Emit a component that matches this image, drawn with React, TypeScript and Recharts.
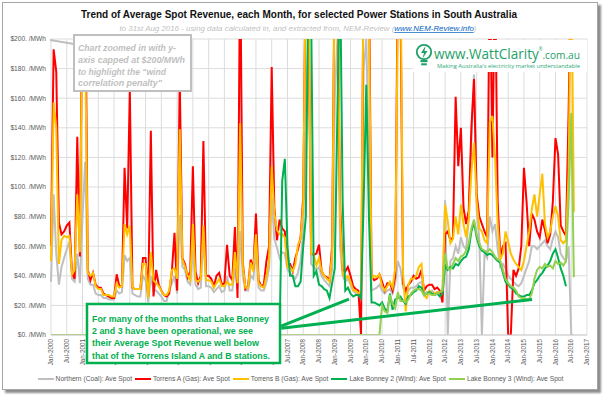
// Monthly average spot revenue for SA power stations (Recharts line chart)
import { LineChart, Line, XAxis, YAxis, CartesianGrid, Legend, ReferenceLine } from 'recharts';

const FONT = '"Liberation Sans", Arial, sans-serif';

// $/MWh per month, Jan-2000 .. Aug-2016 (values above 200 run off the capped axis)
const northern = [
  36, 95, 55, 34, 46, 52, 58, 63, 38, 36, 55, 35,
  80, 117, 38, 34, 34, 28, 27, 27, 25, 25, 24, 24,
  24, 30, 28, 29, 54, 50, 52, 28, 27, 26, 26, 40,
  37, 22, 40, 30, 30, 28, 26, 23, 23, 30, 35, 40,
  28, 81, 46, 44, 36, 34, 58, 34, 31, 32, 66, 33,
  33, 32, 29, 31, 33, 29, 30, 40, 30, 30, 45, 31,
  70, 40, 30, 30, 40, 38, 57, 32, 30, 30, 36, 45,
  93, 65, 59, 52, 56, 55, 44, 42, 40, 38, 42, 50,
  70, 150, 200, 48, 46, 44, 46, 40, 37, 35, 33, 45,
  160, 200, 60, 40, 36, 38, 34, 30, 28, 27, 28, 180,
  200, 120, 30, 31, 32, 34, 30, 28, 30, 31, 28, 35,
  50, 45, 32, 28, 30, 32, 32, 33, 35, 36, 28, 29,
  29, 30, 28, 29, 28, 27, 91, 0, 50, 52, 60, 55,
  66, 60, 58, 79, 130, 176, 85, 65, 0, 55, 52, 80,
  70, 75, 58, 46, 48, 45, 40, 38, 36, 34, 33, 35,
  40, 45, 50, 60, 60, 58, 60, 62, 64, 60, 58, 65,
  70, 66, 55, 52, 50, 60, 0, 0,
];

const torrensA = [
  60, 193, 178, 76, 68, 70, 74, 76, 42, 38, 134, 53,
  260, 250, 44, 37, 42, 34, 32, 32, 28, 27, 26, 25,
  25, 41, 33, 33, 113, 72, 166, 32, 31, 31, 31, 52,
  52, 26, 138, 26, 44, 34, 30, 27, 26, 28, 43, 69,
  30, 173, 52, 48, 39, 43, 114, 43, 35, 40, 131, 40,
  40, 38, 33, 40, 42, 34, 35, 61, 40, 37, 73, 25,
  260, 49, 31, 33, 51, 44, 82, 37, 33, 34, 50, 60,
  181, 86, 64, 78, 72, 70, 48, 48, 43, 52, 58, 66,
  93, 250, 230, 55, 54, 55, 61, 43, 40, 39, 37, 60,
  260, 240, 90, 44, 43, 46, 40, 33, 31, 30, 0, 260,
  240, 250, 40, 37, 38, 41, 36, 30, 35, 35, 30, 40,
  250, 230, 35, 30, 34, 36, 40, 38, 39, 44, 30, 33,
  34, 34, 31, 32, 30, 22, 68, 70, 64, 66, 161, 114,
  140, 86, 75, 84, 140, 173, 95, 80, 75, 70, 66, 250,
  120, 250, 90, 53, 60, 62, 0, 0, 44, 40, 45, 60,
  113, 90, 60, 82, 78, 70, 66, 78, 71, 62, 68, 90,
  133, 122, 74, 70, 67, 150, 260, null,
];

const torrensB = [
  50, 157, 140, 48, 64, 67, 66, 67, 41, 44, 95, 56,
  230, 200, 42, 40, 42, 33, 31, 31, 27, 27, 27, 26,
  26, 35, 32, 33, 75, 68, 74, 32, 31, 31, 31, 48,
  48, 25, 56, 37, 35, 33, 30, 27, 27, 30, 44, 45,
  38, 139, 51, 46, 40, 37, 75, 37, 36, 38, 74, 37,
  37, 36, 32, 35, 38, 33, 33, 36, 34, 34, 56, 35,
  143, 46, 32, 32, 49, 43, 68, 35, 33, 32, 40, 50,
  114, 82, 71, 68, 68, 66, 46, 46, 43, 48, 61, 65,
  88, 260, 240, 55, 54, 47, 52, 43, 40, 38, 36, 55,
  250, 260, 80, 42, 38, 40, 36, 30, 30, 28, 30, 250,
  230, 220, 38, 40, 39, 41, 33, 30, 33, 36, 32, 45,
  220, 260, 41, 16, 34, 38, 38, 40, 46, 48, 27, 25,
  30, 28, 28, 29, 29, 30, 88, 77, 62, 65, 80, 68,
  88, 75, 66, 79, 110, 130, 90, 72, 70, 64, 62, 144,
  148, 120, 75, 51, 55, 70, 63, 55, 51, 48, 46, 44,
  50, 60, 70, 85, 95, 80, 95, 109, 75, 66, 70, 80,
  87, 80, 64, 62, 64, 110, 260, 83,
];

const bonney2 = [
  0, 0, 0, 0, 0, 0, 0, 0, 0, 0, 0, 0,
  0, 0, 0, 0, 0, 0, 0, 0, 0, 0, 0, 0,
  0, 0, 0, 0, 0, 0, 0, 0, 0, 0, 0, 0,
  0, 0, 0, 0, 0, 0, 0, 0, 0, 0, 0, 0,
  0, 0, 0, 0, 0, 0, 0, 0, 0, 0, 0, 0,
  0, 0, 0, 0, 0, 0, 0, 0, 0, 0, 0, 0,
  0, 0, 0, 0, 0, 0, 0, 0, 0, 0, 0, 0,
  0, 0, 0, 0, 104, 119, 60, 40, 40, 33, 33, 36,
  60, 80, 250, 220, 40, 43, 34, 33, 31, 30, 25, 35,
  45, 150, 250, 90, 30, 32, 28, 26, 27, 27, 25, 90,
  169, 80, 22, 22, 21, 20, 22, 18, 16, 28, 17, 24,
  25, 26, 23, 21, 26, 27, 29, 30, 33, 32, 27, 28,
  29, 28, 27, 28, 26, 28, 47, 44, 46, 45, 48, 47,
  50, 52, 53, 58, 70, 76, 66, 60, 57, 56, 54, 55,
  54, 52, 50, 49, 42, 36, 34, 32, 31, 28, 27, 26,
  26, 27, 27, 30, 35, 37, 40, 42, 45, 47, 50, 55,
  58, 52, 45, 40, 33, null, null, null,
];

const bonney3 = [
  0, 0, 0, 0, 0, 0, 0, 0, 0, 0, 0, 0,
  0, 0, 0, 0, 0, 0, 0, 0, 0, 0, 0, 0,
  0, 0, 0, 0, 0, 0, 0, 0, 0, 0, 0, 0,
  0, 0, 0, 0, 0, 0, 0, 0, 0, 0, 0, 0,
  0, 0, 0, 0, 0, 0, 0, 0, 0, 0, 0, 0,
  0, 0, 0, 0, 0, 0, 0, 0, 0, 0, 0, 0,
  0, 0, 0, 0, 0, 0, 0, 0, 0, 0, 0, 0,
  0, 0, 0, 0, 0, 0, 0, 0, 0, 0, 0, 0,
  0, 0, 0, 0, 0, 0, 0, 0, 0, 0, 0, 0,
  0, 0, 0, 0, 0, 0, 0, 0, 0, 0, 0, 0,
  0, 0, 0, 0, 0, 0, 20, 16, 15, 27, 21, 18,
  29, 23, 23, 22, 24, 28, 30, 31, 31, 30, 27, 28,
  28, 27, 27, 28, 29, 30, 55, 45, 44, 48, 52, 50,
  53, 54, 57, 62, 72, 78, 68, 62, 58, 57, 56, 58,
  56, 53, 51, 50, 44, 38, 35, 33, 32, 30, 26, 25,
  25, 24, 24, 28, 38, 44, 46, 45, 48, 46, 47, 45,
  50, 48, 49, 47, 50, 90, 150, 39,
];

const seriesNames = [
  'Northern (Coal): Ave Spot',
  'Torrens A (Gas): Ave Spot',
  'Torrens B (Gas): Ave Spot',
  'Lake Bonney 2 (Wind): Ave Spot',
  'Lake Bonney 3 (Wind): Ave Spot',
];

const startYear = 2000;
// tick positions in months since Jan-2000 (Jan / Jul)
const xTicks = [
  0, 6, 12, 18, 24, 30, 36, 42, 48, 54, 60, 66, 72, 78, 84, 90, 96, 102,
  108, 114, 120, 126, 132, 138, 144, 150, 156, 162, 168, 174, 180, 186, 192, 198, 204,
];
const yTicks = [0, 20, 40, 60, 80, 100, 120, 140, 160, 180, 200];

// annotation pointers (month, $/MWh)
const pointerA = [{ x: 87.6, y: 6 }, { x: 113.4, y: 24.3 }];
const pointerB = [{ x: 87.6, y: 4.5 }, { x: 183.1, y: 24 }];

const XTick = (props: any) => {
  const { x, y, payload } = props;
  const m = payload.value;
  const label = (m % 12 === 0 ? 'Jan-' : 'Jul-') + (startYear + Math.floor(m / 12));
  return (
    <text x={x} y={y} transform={`rotate(-90 ${x} ${y})`} textAnchor="end" dy="0.35em"
      fontSize={6.3} fill="#595959" fontFamily={FONT}>
      {label}
    </text>
  );
};

const YTick = (props: any) => {
  const { x, y, payload } = props;
  return (
    <text x={x} y={y} textAnchor="end" dy="0.35em" fontSize={6.6} fill="#595959" fontFamily={FONT}>
      {`$${payload.value}. /MWh`}
    </text>
  );
};

const renderLegend = (props: any) => {
  const items = [...props.payload].sort(
    (a: any, b: any) => seriesNames.indexOf(a.value) - seriesNames.indexOf(b.value)
  );
  return (
    <div style={{ display: 'flex', justifyContent: 'center', alignItems: 'center', paddingTop: 3,
      fontSize: 6.7, lineHeight: '10px', color: '#595959', fontFamily: FONT }}>
      {items.map((entry: any) => (
        <div key={entry.value} style={{ display: 'flex', alignItems: 'center', marginRight: 3 }}>
          <svg width={16} height={10}>
            <line x1={0} y1={5} x2={16} y2={5} stroke={entry.color} strokeWidth={2} />
          </svg>
          <span style={{ marginLeft: 2 }}>{entry.value}</span>
        </div>
      ))}
    </div>
  );
};

export default function App() {
  const data = torrensA.map((_, i) => ({
    m: i,
    northern: northern[i],
    torrensA: torrensA[i],
    torrensB: torrensB[i],
    bonney2: bonney2[i],
    bonney3: bonney3[i],
  }));

  return (
    <div style={{ position: 'absolute', left: 0, top: 0, width: 604, height: 396, background: '#fff', fontFamily: FONT }}>
      <div style={{ position: 'absolute', left: 2, top: 2, width: 594, height: 386, border: '1px solid #a6a6a6',
        boxShadow: '3px 3px 2px rgba(0,0,0,0.45)', background: '#fff' }} />
      <div style={{ position: 'absolute', left: 0, top: 0 }}>
        <LineChart width={604} height={396} data={data} margin={{ top: 39, right: 17, bottom: 0, left: 0 }}>
          <CartesianGrid stroke="#dcdcdc" strokeWidth={1} />
          <XAxis dataKey="m" type="number" domain={[0, 204]} ticks={xTicks} interval={0}
            tick={<XTick />} tickSize={0} tickMargin={4} height={36}
            axisLine={{ stroke: '#d0d0d0' }} tickLine={false} />
          <YAxis domain={[0, 200]} ticks={yTicks} allowDataOverflow width={51}
            tick={<YTick />} tickSize={0} tickMargin={5} interval={0}
            axisLine={false} tickLine={false} />
          <Legend verticalAlign="bottom" height={25} content={renderLegend} wrapperStyle={{ left: 0, width: 604 }} />

          <Line type="linear" dataKey="northern" name={seriesNames[0]} stroke="#BFBFBF"
            strokeWidth={2} dot={false} isAnimationActive={false} />
          <Line type="linear" dataKey="torrensA" name={seriesNames[1]} stroke="#FF0000"
            strokeWidth={2} dot={false} isAnimationActive={false} />
          <Line type="linear" dataKey="torrensB" name={seriesNames[2]} stroke="#FFC000"
            strokeWidth={2} dot={false} isAnimationActive={false} />
          <Line type="linear" dataKey="bonney2" name={seriesNames[3]} stroke="#00B050"
            strokeWidth={2} dot={false} isAnimationActive={false} />
          <Line type="linear" dataKey="bonney3" name={seriesNames[4]} stroke="#92D050"
            strokeWidth={2} dot={false} isAnimationActive={false} />

          {/* pointers from the callout box */}
          <ReferenceLine segment={pointerA} stroke="#00B050" strokeWidth={3} ifOverflow="visible" />
          <ReferenceLine segment={pointerB} stroke="#00B050" strokeWidth={3} ifOverflow="visible" />
        </LineChart>
      </div>

      <svg width={604} height={396} style={{ position: 'absolute', left: 0, top: 0, pointerEvents: 'none' }}>
        <text x={299} y={18} textAnchor="middle" fontSize={10.5} fontWeight="bold" fill="#111"
          textLength={436} lengthAdjust="spacingAndGlyphs" fontFamily={FONT}>
          Trend of Average Spot Revenue, each Month, for selected Power Stations in South Australia
        </text>
        <text x={298} y={31} textAnchor="middle" fontSize={7.2} fontStyle="italic" fill="#BFBFBF"
          textLength={357} lengthAdjust="spacingAndGlyphs" fontFamily={FONT}>
          to 31st Aug 2016 - using data calculated in, and extracted from, NEM-Review (
          <tspan fill="#0563C1" textDecoration="underline">www.NEM-Review.info</tspan>)
        </text>

        {/* axis cap note */}
        <line x1={50} y1={40} x2={74} y2={44} stroke="#BFBFBF" strokeWidth={2} />
        <rect x={74} y={35} width={117} height={56} fill="#fff" stroke="#BFBFBF" strokeWidth={2} />
        <g fontSize={8.5} fontWeight="bold" fontStyle="italic" fill="#BFBFBF" fontFamily={FONT}>
          <text x={78} y={50.5} textLength={98} lengthAdjust="spacingAndGlyphs">Chart zoomed in with y-</text>
          <text x={78} y={62.5} textLength={107} lengthAdjust="spacingAndGlyphs">axis capped at $200/MWh</text>
          <text x={78} y={74.5} textLength={88} lengthAdjust="spacingAndGlyphs">to highlight the "wind</text>
          <text x={78} y={86} textLength={84} lengthAdjust="spacingAndGlyphs">correlation penalty"</text>
        </g>

        {/* wind callout */}
        <rect x={87} y={304} width={193} height={59} fill="#fff" stroke="#00B050" strokeWidth={2.5} />
        <g fontSize={8.5} fontWeight="bold" fill="#00B050" fontFamily={FONT}>
          <text x={92} y={321.5} textLength={177} lengthAdjust="spacingAndGlyphs">For many of the months that Lake Bonney</text>
          <text x={92} y={334} textLength={161} lengthAdjust="spacingAndGlyphs">2 and 3 have been operational, we see</text>
          <text x={92} y={346.3} textLength={167} lengthAdjust="spacingAndGlyphs">their Average Spot Revenue well below</text>
          <text x={92} y={358.6} textLength={178} lengthAdjust="spacingAndGlyphs">that of the Torrens Island A and B stations.</text>
        </g>

        {/* logo */}
        <rect x={413} y={40} width={174} height={32} fill="#fff" />
        <circle cx={424} cy={52} r={7.2} fill="none" stroke="#1E9F67" strokeWidth={1.8} />
        <path d="M425.5 46 L421 53 L424 53 L422.5 58.5 L427.5 51 L424.5 51 Z" fill="#1E9F67" />
        <rect x={420.5} y={60} width={7} height={2.2} fill="#1E9F67" />
        <rect x={421.2} y={63.3} width={5.6} height={2} fill="#1E9F67" />
        <text x={434} y={58.5} fill="#1E9F67" textLength={146} lengthAdjust="spacingAndGlyphs"
          fontFamily='"Open Sans", Arial, sans-serif' fontSize={14}>
          www.WattClarity<tspan fontSize={4.5} dy={-8}>®</tspan><tspan fontSize={10.5} dy={8}>.com.au</tspan>
        </text>
        <text x={437} y={67.8} fontSize={5.6} fill="#2AA876" textLength={143} lengthAdjust="spacingAndGlyphs"
          fontFamily='"Open Sans", Arial, sans-serif'>Making Australia's electricity market understandable</text>
      </svg>
    </div>
  );
}
